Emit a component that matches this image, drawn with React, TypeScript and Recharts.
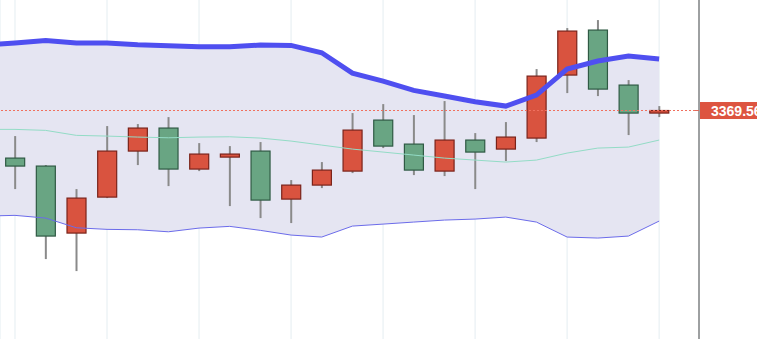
import {
  ComposedChart,
  Area,
  Line,
  Bar,
  XAxis,
  YAxis,
  CartesianGrid,
  ReferenceLine,
} from "recharts";

// bar index; -1 is the bar just left of the visible window (bands only)
const bandIdx = [-1, 0, 1, 2, 3, 4, 5, 6, 7, 8, 9, 10, 11, 12, 13, 14, 15, 16, 17, 18, 19, 20, 21];

const upper = [
  3385.97, 3386.47, 3387.1, 3386.47, 3386.47, 3386.04, 3385.79, 3385.54, 3385.54, 3385.97, 3385.89,
  3384.04, 3378.95, 3376.94, 3374.61, 3373.18, 3371.75, 3370.67, 3373.43, 3379.95, 3381.96, 3383.21,
  3382.46,
];
const middle = [
  3364.83, 3364.83, 3364.58, 3363.33, 3363.15, 3362.9, 3362.72, 3362.9, 3362.97, 3362.65, 3361.9,
  3360.89, 3359.89, 3359.14, 3358.39, 3357.63, 3357.13, 3356.63, 3357.13, 3358.89, 3360.14, 3360.39,
  3362.15,
];
const lower = [
  3343.09, 3343.27, 3342.59, 3340.16, 3339.76, 3339.66, 3339.15, 3340.08, 3340.51, 3339.51, 3338.33,
  3337.83, 3340.58, 3341.08, 3341.59, 3342.09, 3342.34, 3342.84, 3341.59, 3337.83, 3337.58, 3338.08,
  3341.84,
];

// candles for bars 0..21
const opens = [
  3357.63, 3355.63, 3338.83, 3347.85, 3359.39, 3365.16, 3354.88, 3357.88, 3359.39, 3347.35, 3350.86,
  3354.37, 3367.16, 3361.14, 3354.37, 3362.15, 3359.89, 3362.65, 3378.45, 3389.73, 3375.94, 3368.92,
];
const closes = [
  3355.63, 3338.08, 3347.6, 3359.39, 3365.16, 3354.88, 3358.64, 3358.64, 3347.1, 3350.86, 3354.62,
  3364.65, 3360.64, 3354.62, 3362.15, 3359.14, 3362.9, 3378.19, 3389.48, 3374.93, 3368.92, 3369.56,
];
const highs = [
  3363.15, 3355.9, 3349.86, 3365.66, 3366.16, 3367.91, 3361.39, 3360.64, 3361.65, 3352.12, 3356.63,
  3368.92, 3371.17, 3368.42, 3371.93, 3363.9, 3366.66, 3379.95, 3390.23, 3392.24, 3377.19, 3370.67,
];
const lows = [
  3349.86, 3332.31, 3329.3, 3347.6, 3355.88, 3350.61, 3354.37, 3345.6, 3342.59, 3341.34, 3350.11,
  3353.87, 3360.14, 3353.37, 3353.12, 3349.86, 3356.88, 3361.65, 3373.93, 3373.18, 3363.4, 3367.91,
];

const lastPrice = 3369.56;
const gridTicks = [0, 3, 6, 9, 12, 15, 18, 21];

const data = bandIdx.map((i, k) => ({
  i,
  upper: upper[k],
  middle: middle[k],
  lower: lower[k],
  open: i >= 0 ? opens[i] : undefined,
  close: i >= 0 ? closes[i] : undefined,
  high: i >= 0 ? highs[i] : undefined,
  low: i >= 0 ? lows[i] : undefined,
}));

function Candle(props: any) {
  const { x, y, width, height, payload } = props;
  if (!payload || payload.open == null || !height) return null;
  const { open, close, high, low } = payload;
  const ppx = height / (high - low);
  const top = y + (high - Math.max(open, close)) * ppx;
  const bot = y + (high - Math.min(open, close)) * ppx;
  const cx = x + width / 2;
  const up = close >= open;
  const fill = up ? "#d9533f" : "#69a583";
  const stroke = up ? "#7a231a" : "#2f5a44";
  return (
    <g>
      <line x1={cx} x2={cx} y1={y} y2={y + height} stroke="#8a8a8a" strokeWidth={2} />
      <rect
        x={x}
        y={top}
        width={width}
        height={Math.max(bot - top, 1)}
        fill={fill}
        stroke={stroke}
        strokeWidth={1.2}
      />
    </g>
  );
}

function PriceTag(props: any) {
  const { x, y, payload } = props;
  return (
    <g>
      <line x1={x - 4} x2={x} y1={y} y2={y} stroke="#e06a5a" strokeWidth={1} />
      <rect x={x + 1} y={y - 8.5} width={62} height={17} fill="#dd5440" />
      <text
        x={x + 12}
        y={y + 5}
        fill="#ffffff"
        style={{ fontSize: 14, fontWeight: 700, fontFamily: "'Liberation Sans', Arial, sans-serif" }}
      >
        {payload.value.toFixed(2)}
      </text>
    </g>
  );
}

export default function App() {
  return (
    <div style={{ position: "fixed", left: 0, top: 0, width: 757, height: 339, background: "#fff" }}>
      <ComposedChart
        width={757}
        height={339}
        data={data}
        margin={{ top: 0, right: 0, bottom: 0, left: 0 }}
      >
        <CartesianGrid horizontal={false} stroke="#e4edf1" />
        <XAxis
          type="number"
          dataKey="i"
          domain={[-0.489, 22.3]}
          allowDataOverflow
          ticks={gridTicks}
          hide
        />
        <YAxis
          orientation="right"
          domain={[3312.27, 3397.27]}
          allowDataOverflow
          width={58}
          ticks={[lastPrice]}
          tick={<PriceTag />}
          tickLine={false}
          tickSize={0}
          tickMargin={0}
          axisLine={{ stroke: "#4a4a4a" }}
        />
        <Area
          type="linear"
          dataKey={(d: any) => [d.lower, d.upper]}
          fill="#e5e5f2"
          fillOpacity={1}
          stroke="none"
          activeDot={false}
          isAnimationActive={false}
        />
        <ReferenceLine y={lastPrice} stroke="#f0705f" strokeDasharray="2 2" strokeWidth={1} />
        <Line
          type="linear"
          dataKey="lower"
          stroke="#6b6bea"
          strokeWidth={1}
          dot={false}
          activeDot={false}
          isAnimationActive={false}
        />
        <Line
          type="linear"
          dataKey="middle"
          stroke="#93dcc6"
          strokeWidth={1}
          dot={false}
          activeDot={false}
          isAnimationActive={false}
        />
        <Line
          type="linear"
          dataKey="upper"
          stroke="#4f4ff0"
          strokeWidth={5}
          dot={false}
          activeDot={false}
          isAnimationActive={false}
        />
        <Bar
          dataKey={(d: any) => (d.open == null ? undefined : [d.low, d.high])}
          barSize={19}
          shape={<Candle />}
          isAnimationActive={false}
        />
      </ComposedChart>
    </div>
  );
}
